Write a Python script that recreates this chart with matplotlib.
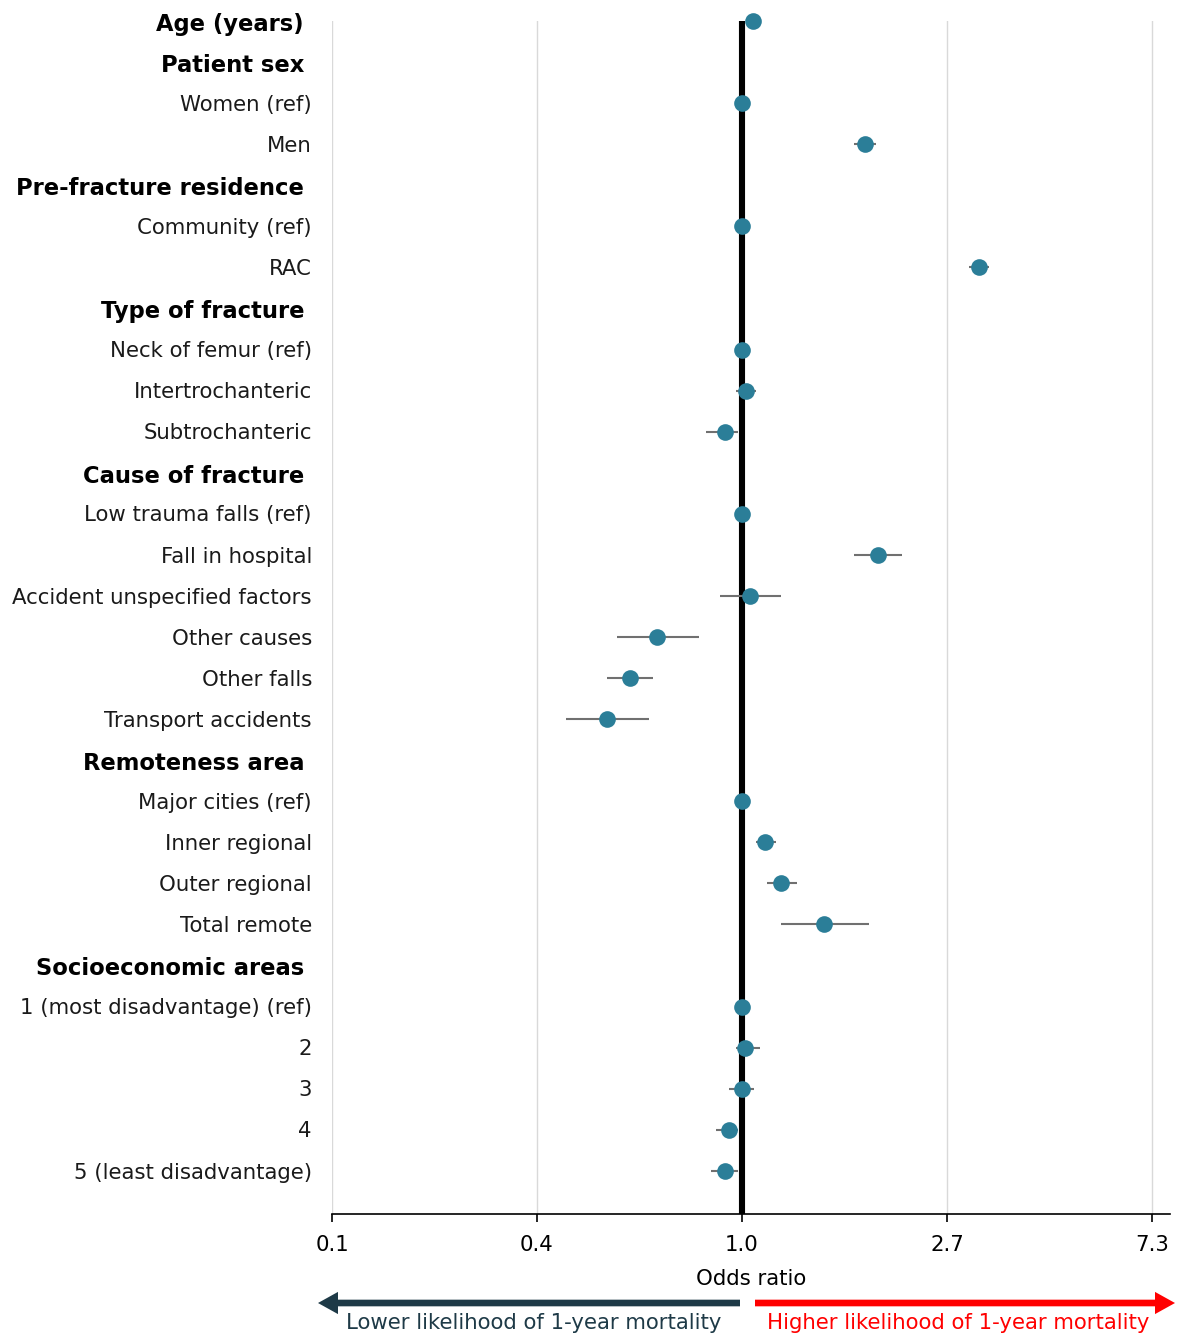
import numpy as np
import matplotlib
matplotlib.use("Agg")
import matplotlib.pyplot as plt

plt.rcParams['font.family'] = ['DejaVu Sans']

labels = ["Age (years)", "Patient sex", "Women (ref)", "Men",
          "Pre-fracture residence", "Community (ref)", "RAC",
          "Type of fracture", "Neck of femur (ref)", "Intertrochanteric", "Subtrochanteric",
          "Cause of fracture", "Low trauma falls (ref)", "Fall in hospital",
          "Accident unspecified factors", "Other causes", "Other falls", "Transport accidents",
          "Remoteness area", "Major cities (ref)", "Inner regional", "Outer regional", "Total remote",
          "Socioeconomic areas", "1 (most disadvantage) (ref)", "2", "3", "4", "5 (least disadvantage)"]
is_header = [True, True, False, False,
             True, False, False,
             True, False, False, False,
             True, False, False, False, False, False, False,
             True, False, False, False, False,
             True, False, False, False, False, False]
nan = np.nan
odds = [1.056, nan, 1.0, 1.82,
        nan, 1.0, 3.18,
        nan, 1.0, 1.02, 0.92,
        nan, 1.0, 1.94, 1.04, 0.66, 0.579, 0.518,
        nan, 1.0, 1.12, 1.21, 1.49,
        nan, 1.0, 1.016, 1.0, 0.94, 0.92]
ci_low = [1.05, nan, nan, 1.73,
          nan, nan, 3.03,
          nan, nan, 0.97, 0.84,
          nan, nan, 1.73, 0.90, 0.544, 0.518, 0.424,
          nan, nan, 1.07, 1.13, 1.21,
          nan, nan, 0.97, 0.94, 0.88, 0.86]
ci_high = [1.06, nan, nan, 1.92,
           nan, nan, 3.34,
           nan, nan, 1.07, 0.98,
           nan, nan, 2.18, 1.21, 0.81, 0.648, 0.635,
           nan, nan, 1.18, 1.31, 1.86,
           nan, nan, 1.09, 1.06, 0.98, 0.98]
tick_values = [np.exp(-2), np.exp(-1), 1.0, np.exp(1), np.exp(2)]
tick_labels = ["0.1", "0.4", "1.0", "2.7", "7.3"]

W, H = 1177, 1336
fig = plt.figure(figsize=(W / 100, H / 100), dpi=100)
ax = fig.add_axes([332 / W, 1 - 1214 / H, (1170 - 332) / W, (1214 - 21) / H])

n = len(labels)
rows = np.arange(n)
odds_a = np.array(odds)
lo_a = np.array(ci_low)
hi_a = np.array(ci_high)

ax.set_xscale('log')
ax.set_xlim(np.exp(-2), np.exp(2.088))
ax.set_ylim(n - 1 + 1.05, 0)

ax.grid(axis='x', color='#d9d9d9', lw=1.0, zorder=0)
ax.set_axisbelow(True)
ax.axvline(1.0, color='black', lw=4.4, zorder=2)

m = ~np.isnan(lo_a)
ax.hlines(rows[m], lo_a[m], hi_a[m], color='#707070', lw=1.5, zorder=3)
mk = ~np.isnan(odds_a)
ax.plot(odds_a[mk], rows[mk], 'o', color='#2b7e98', ms=12, mec='none',
        zorder=4, clip_on=False)

ax.set_xticks(tick_values)
ax.set_xticklabels(tick_labels, fontsize=15.3)
ax.xaxis.set_minor_locator(matplotlib.ticker.NullLocator())
ax.tick_params(axis='x', length=6, width=1.2, pad=9, colors='black')
ax.set_yticks([])
for s in ['top', 'right', 'left']:
    ax.spines[s].set_visible(False)
ax.spines['bottom'].set_linewidth(1.2)

trans = ax.get_yaxis_transform()
for r, lab, hdr in zip(rows, labels, is_header):
    if hdr:
        ax.text(-0.0334, r + 0.08, lab, transform=trans, ha='right', va='center',
                fontsize=16.3, fontweight='bold', color='black')
    else:
        ax.text(-0.0239, r + 0.04, lab, transform=trans, ha='right', va='center',
                fontsize=15.3, color='#1a1a1a')

fig.text(751 / W, 1 - 1279 / H, "Odds ratio", ha='center', va='center', fontsize=15.3)

dark = '#1e3a47'
red = '#ff0000'
ay = 1 - 1303 / H
style = 'simple,head_length=0.9,head_width=1.0,tail_width=0.3'
fig.add_artist(matplotlib.patches.FancyArrowPatch(
    (740 / W, ay), (318 / W, ay), transform=fig.transFigure,
    arrowstyle=style, mutation_scale=16,
    color=dark, lw=0, shrinkA=0, shrinkB=0))
fig.add_artist(matplotlib.patches.FancyArrowPatch(
    (755 / W, ay), (1175 / W, ay), transform=fig.transFigure,
    arrowstyle=style, mutation_scale=16,
    color=red, lw=0, shrinkA=0, shrinkB=0))
fig.text(534 / W, 1 - 1323 / H, "Lower likelihood of 1-year mortality",
         ha='center', va='center', fontsize=15.3, color=dark)
fig.text(958 / W, 1 - 1323 / H, "Higher likelihood of 1-year mortality",
         ha='center', va='center', fontsize=15.3, color=red)

fig.savefig("out.png", dpi=100)
